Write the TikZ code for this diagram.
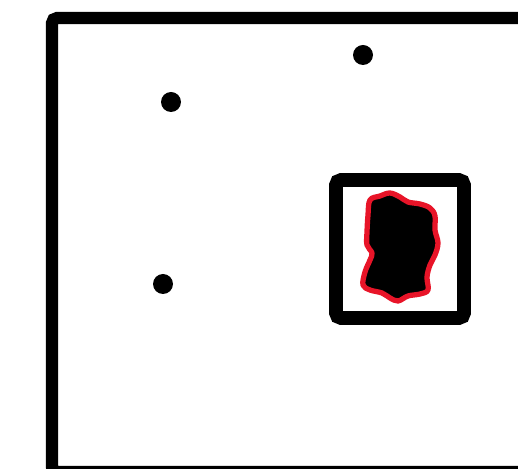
\documentclass[tikz,border=0pt]{standalone}
\usepackage{tikz}
\definecolor{blobred}{RGB}{232,20,40}

\begin{document}
\begin{tikzpicture}[x=0.02cm,y=-0.02cm]
                \useasboundingbox (0,0) rectangle (518,469);
                \clip (0,0) rectangle (518,469);
                \draw[line width=7pt,rounded corners=3pt] (540,472) -- (52,472) -- (52,18) -- (540,18);
                \draw[line width=7.9pt,rounded corners=3pt] (336,180) rectangle (464,318);
                \fill (363,55) circle (10);
                \fill (171,102) circle (10);
                \fill (163,284) circle (10);
                \draw[blobred,line width=3pt,fill=black,line join=round]
                  plot[smooth cycle,tension=0.6] coordinates {
                    (370,200) (380,196) (390,193) (400,197) (408,202) (420,204)
                    (430,208) (435,216) (435,230) (438,243) (435,255) (430,265)
                    (427,277) (428,290) (420,294) (408,296) (398,301) (390,298)
                    (382,293) (370,290) (363,285) (365,272) (370,260) (372,253)
                    (367,245) (367,232) (368,215)};
            \end{tikzpicture}
\end{document}
